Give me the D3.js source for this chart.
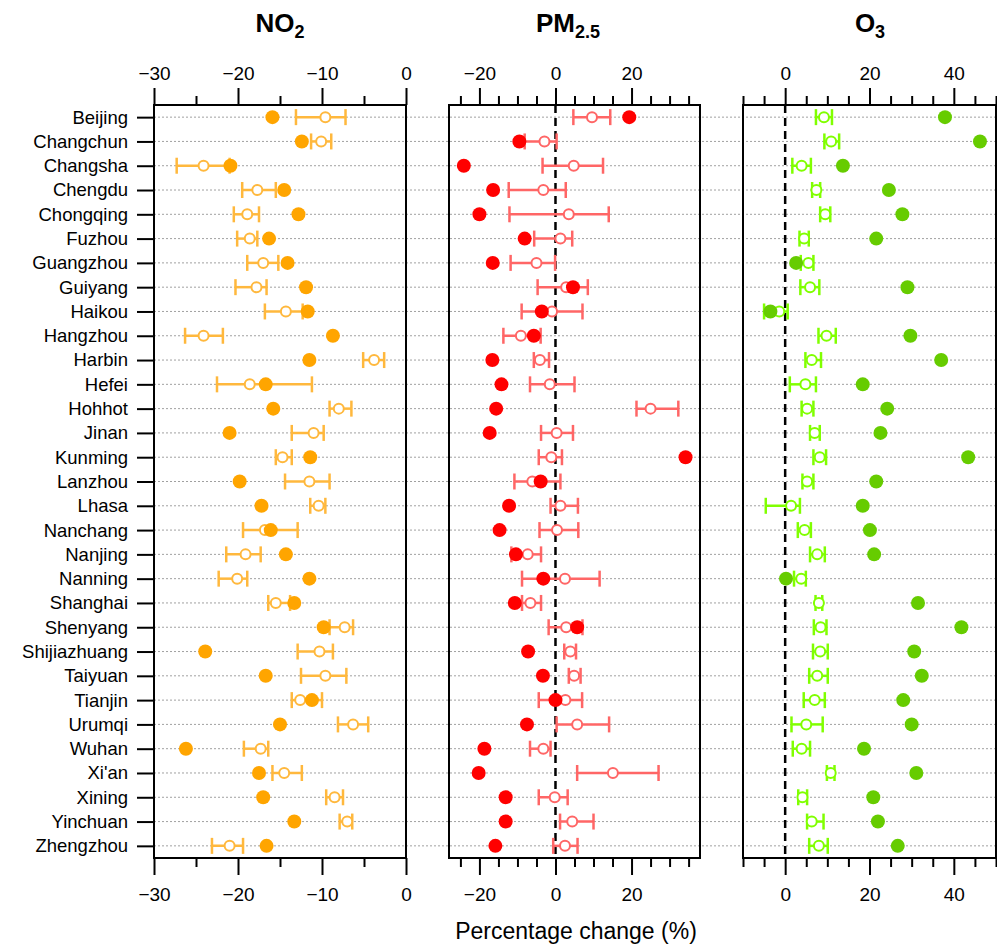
<!DOCTYPE html>
<html>
<head>
<meta charset="utf-8">
<script src="https://cdn.jsdelivr.net/npm/d3@7"></script>
<style>
body { margin: 0; background: #fff; }
text { font-family: "Liberation Sans", Arial, sans-serif; fill: #000; }
</style>
</head>
<body>
<script>
const width = 997,
    height = 944;

const cities = ["Beijing", "Changchun", "Changsha", "Chengdu", "Chongqing", "Fuzhou", "Guangzhou", "Guiyang",
    "Haikou", "Hangzhou", "Harbin", "Hefei", "Hohhot", "Jinan", "Kunming", "Lanzhou", "Lhasa", "Nanchang",
    "Nanjing", "Nanning", "Shanghai", "Shenyang", "Shijiazhuang", "Taiyuan", "Tianjin", "Urumqi", "Wuhan",
    "Xi'an", "Xining", "Yinchuan", "Zhengzhou"];

// NO2: observed change, modelled change and its range
const no2Obs = [-15.9, -12.4, -20.9, -14.5, -12.8, -16.3, -14.1, -11.9, -11.7, -8.7, -11.5, -16.7, -15.8, -21.0, -11.4, -19.8,
    -17.2, -16.1, -14.3, -11.5, -13.3, -9.8, -23.9, -16.7, -11.2, -15.0, -26.2, -17.5, -17.0, -13.3, -16.6];
const no2Mod = [-9.6, -10.1, -24.1, -17.7, -18.9, -18.6, -17.0, -17.8, -14.3, -24.1, -3.8, -18.6, -8.0, -11.0, -14.7, -11.5,
    -10.4, -16.8, -19.1, -20.1, -15.5, -7.3, -10.3, -9.6, -12.6, -6.3, -17.3, -14.5, -8.5, -7.0, -21.0];
const no2Lo = [-13.1, -11.3, -27.3, -19.5, -20.5, -20.1, -18.9, -20.3, -16.8, -26.3, -5.1, -22.5, -9.1, -13.6, -15.5, -14.4,
    -11.4, -19.4, -21.4, -22.3, -16.4, -9.1, -12.9, -12.5, -13.6, -8.1, -19.3, -15.9, -9.5, -7.9, -23.1];
const no2Hi = [-7.2, -8.9, -21.0, -15.5, -17.5, -17.7, -15.2, -16.6, -12.3, -21.8, -2.6, -11.2, -6.5, -9.8, -13.6, -9.1,
    -9.6, -12.9, -17.3, -18.9, -13.8, -6.3, -8.7, -7.1, -10.0, -4.5, -16.4, -12.4, -7.5, -6.4, -19.4];

// PM2.5
const pmObs = [19.4, -9.5, -24.1, -16.4, -20.0, -8.1, -16.5, 4.6, -3.6, -5.7, -16.6, -14.2, -15.6, -17.3, 34.2, -3.9,
    -12.2, -14.7, -10.4, -3.2, -10.7, 5.7, -7.2, -3.3, 0.0, -7.5, -18.7, -20.2, -13.1, -13.1, -15.8];
const pmMod = [9.6, -2.9, 4.8, -3.2, 3.5, 1.3, -5.0, 2.8, -0.9, -9.1, -4.1, -1.5, 25.0, 0.3, -1.1, -6.1,
    1.3, 0.4, -7.3, 2.5, -6.6, 2.8, 3.9, 4.9, 2.6, 5.7, -3.2, 15.1, -0.2, 4.4, 2.5];
const pmLo = [4.7, -8.1, -3.4, -12.3, -12.1, -5.6, -11.8, -4.7, -8.9, -13.7, -5.7, -6.7, 21.3, -3.8, -4.4, -10.8,
    -1.3, -4.2, -11.6, -8.8, -8.8, -1.8, 2.3, 3.5, -4.4, 0.3, -6.7, 5.7, -4.4, 1.2, -0.6];
const pmHi = [14.4, 0.3, 12.5, 2.7, 14.0, 4.4, -0.1, 8.5, 7.1, -3.9, -1.7, 5.0, 32.3, 4.6, 1.7, 1.3,
    5.9, 6.0, -3.8, 11.6, -3.8, 7.1, 5.4, 6.6, 7.0, 14.1, -1.3, 27.1, 3.2, 10.0, 5.8];

// O3
const o3Obs = [37.9, 46.2, 13.7, 24.6, 27.8, 21.6, 2.6, 29.0, -3.5, 29.7, 37.0, 18.4, 24.2, 22.6, 43.4, 21.6,
    18.4, 20.1, 21.1, 0.2, 31.5, 41.8, 30.6, 32.4, 28.0, 30.0, 18.7, 31.1, 20.9, 22.0, 26.7];
const o3Mod = [9.2, 10.9, 3.9, 7.4, 9.5, 4.5, 5.5, 5.9, -1.4, 9.8, 6.3, 4.8, 5.2, 7.0, 8.2, 5.2,
    1.4, 4.6, 7.6, 3.8, 8.0, 8.4, 8.3, 7.6, 7.0, 5.0, 3.9, 10.8, 4.1, 6.3, 8.0];
const o3Lo = [7.3, 9.3, 1.7, 6.4, 8.3, 3.4, 3.7, 3.6, -5.0, 7.9, 4.8, 1.1, 3.9, 5.9, 6.7, 4.1,
    -4.6, 3.0, 5.9, 2.1, 7.2, 6.8, 6.6, 5.7, 4.4, 1.5, 1.8, 9.9, 3.1, 5.2, 5.7];
const o3Hi = [11.1, 12.8, 6.1, 8.3, 10.7, 5.6, 6.7, 8.1, 0.6, 12.0, 8.5, 7.3, 6.7, 8.2, 9.7, 6.7,
    3.5, 6.1, 9.4, 4.9, 8.8, 9.8, 10.1, 10.1, 9.4, 8.9, 5.9, 11.7, 5.2, 9.1, 10.1];

const panels = [
    {name: "NO", sub: "2", x0: 154, x1: 406, domain: [-30, 0], major: [-30, -20, -10, 0], minor: [-25, -15, -5],
        obs: no2Obs, mod: no2Mod, lo: no2Lo, hi: no2Hi, dark: "#FFA500", light: "#FFB83D", zero: false, titleX: 280},
    {name: "PM", sub: "2.5", x0: 449, x1: 700, domain: [-28, 38], major: [-20, 0, 20],
        minor: [-25, -15, -10, -5, 5, 10, 15, 25, 30, 35],
        obs: pmObs, mod: pmMod, lo: pmLo, hi: pmHi, dark: "#FF0000", light: "#FF6666", zero: true, titleX: 568},
    {name: "O", sub: "3", x0: 743, x1: 996, domain: [-10, 50], major: [0, 20, 40],
        minor: [-10, -5, 5, 10, 15, 25, 30, 35, 45, 50],
        obs: o3Obs, mod: o3Mod, lo: o3Lo, hi: o3Hi, dark: "#66CC00", light: "#80FF00", zero: true, titleX: 870}
];

const yTop = 105,
    yBottom = 858;

const y = d3.scalePoint()
    .domain(cities)
    .range([yTop, yBottom])
    .padding(0.5);

const svg = d3.select("body").append("svg")
    .attr("width", width)
    .attr("height", height);

// dotted row guides, running across all panels
svg.append("g")
    .selectAll("line")
    .data(cities)
    .enter().append("line")
    .attr("x1", 154)
    .attr("x2", width)
    .attr("y1", d => y(d))
    .attr("y2", d => y(d))
    .attr("stroke", "#a0a0a0")
    .attr("stroke-width", 1)
    .attr("stroke-dasharray", "2,2");

function styleAxis(sel) {
    sel.select(".domain").remove();
    sel.selectAll("line").attr("stroke", "#000").attr("stroke-width", 2);
    sel.selectAll("text").attr("font-size", 19).attr("font-family", "Liberation Sans, Arial, sans-serif");
}

panels.forEach(function (p) {
    const x = d3.scaleLinear()
        .domain(p.domain)
        .range([p.x0, p.x1]);

    const g = svg.append("g");

    // title
    const title = g.append("text")
        .attr("x", p.titleX)
        .attr("y", 32)
        .attr("text-anchor", "middle")
        .attr("font-size", 26)
        .attr("font-weight", "bold");
    title.append("tspan").text(p.name);
    title.append("tspan").attr("font-size", 18).attr("dy", 6).text(p.sub);

    // top axis
    g.append("g")
        .attr("transform", `translate(0,${yTop})`)
        .call(d3.axisTop(x).tickValues(p.minor).tickSize(9).tickSizeOuter(0).tickFormat(""))
        .call(styleAxis);
    g.append("g")
        .attr("transform", `translate(0,${yTop})`)
        .call(d3.axisTop(x).tickValues(p.major).tickSize(17).tickSizeOuter(0).tickPadding(8).tickFormat(d3.format("d")))
        .call(styleAxis);

    // bottom axis
    g.append("g")
        .attr("transform", `translate(0,${yBottom})`)
        .call(d3.axisBottom(x).tickValues(p.minor).tickSize(9).tickSizeOuter(0).tickFormat(""))
        .call(styleAxis);
    g.append("g")
        .attr("transform", `translate(0,${yBottom})`)
        .call(d3.axisBottom(x).tickValues(p.major).tickSize(17).tickSizeOuter(0).tickPadding(13).tickFormat(d3.format("d")))
        .call(styleAxis);

    // zero reference
    if (p.zero) {
        g.append("line")
            .attr("x1", x(0))
            .attr("x2", x(0))
            .attr("y1", yTop)
            .attr("y2", yBottom)
            .attr("stroke", "#000")
            .attr("stroke-width", 2.5)
            .attr("stroke-dasharray", "8,5");
    }

    // frame
    g.append("rect")
        .attr("x", p.x0)
        .attr("y", yTop)
        .attr("width", p.x1 - p.x0)
        .attr("height", yBottom - yTop)
        .attr("fill", "none")
        .attr("stroke", "#000")
        .attr("stroke-width", 2);

    const rows = cities.map((c, i) => ({city: c, obs: p.obs[i], mod: p.mod[i], lo: p.lo[i], hi: p.hi[i]}));

    const err = g.append("g")
        .attr("stroke", p.light)
        .attr("stroke-width", 2.5);

    err.selectAll(".bar")
        .data(rows)
        .enter().append("line")
        .attr("class", "bar")
        .attr("x1", d => x(d.lo))
        .attr("x2", d => x(d.hi))
        .attr("y1", d => y(d.city))
        .attr("y2", d => y(d.city));

    ["lo", "hi"].forEach(function (k) {
        err.selectAll(".cap-" + k)
            .data(rows)
            .enter().append("line")
            .attr("class", "cap-" + k)
            .attr("x1", d => x(d[k]))
            .attr("x2", d => x(d[k]))
            .attr("y1", d => y(d.city) - 8)
            .attr("y2", d => y(d.city) + 8);
    });

    g.append("g")
        .selectAll("circle")
        .data(rows)
        .enter().append("circle")
        .attr("cx", d => x(d.mod))
        .attr("cy", d => y(d.city))
        .attr("r", 5)
        .attr("fill", "#fff")
        .attr("stroke", p.light)
        .attr("stroke-width", 2);

    g.append("g")
        .selectAll("circle")
        .data(rows)
        .enter().append("circle")
        .attr("cx", d => x(d.obs))
        .attr("cy", d => y(d.city))
        .attr("r", 7)
        .attr("fill", p.dark);
});

// city axis on the first panel
svg.append("g")
    .attr("transform", `translate(154,0)`)
    .call(d3.axisLeft(y).tickSize(17).tickSizeOuter(0).tickPadding(9))
    .call(styleAxis)
    .call(g => g.selectAll("text").attr("font-size", 18.5));

svg.append("text")
    .attr("x", 576)
    .attr("y", 939)
    .attr("text-anchor", "middle")
    .attr("font-size", 23)
    .text("Percentage change (%)");
</script>
</body>
</html>
